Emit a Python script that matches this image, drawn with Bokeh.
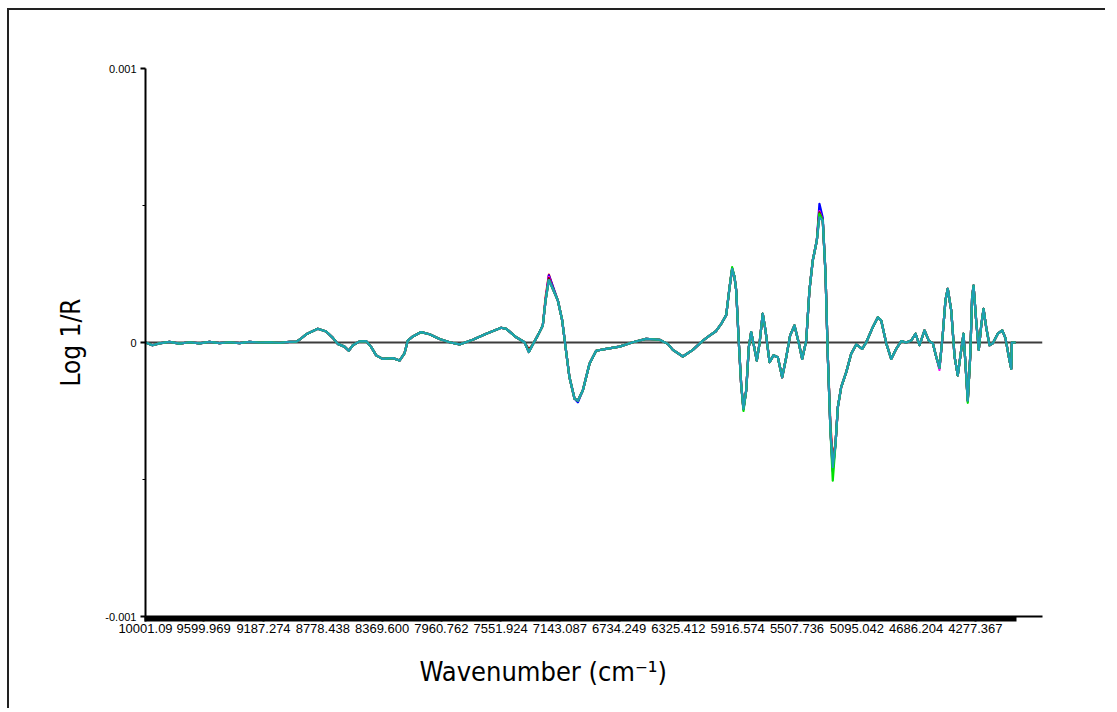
import numpy as np
from bokeh.plotting import figure
from bokeh.models import Range1d, FixedTicker, Span, Title, ColumnDataSource
from bokeh.embed import file_html
from bokeh.resources import INLINE

# ---------------- data ----------------
# wavenumber, cm-1 (decreasing, as drawn)
WAVENUMBER = [
    10001.09, 9953, 9905, 9836, 9767, 9698, 9629, 9560, 9491, 9422, 9353, 9284, 9215, 9146,
    9077, 9008, 8960, 8939, 8893, 8813, 8755, 8709, 8675, 8629, 8599, 8571, 8525, 8479,
    8444, 8410, 8364, 8295, 8249, 8215, 8192, 8157, 8100, 8042, 7973, 7904, 7835, 7744,
    7651, 7548, 7513, 7444, 7387, 7357, 7330, 7295, 7261, 7242, 7219, 7192, 7157, 7127,
    7104, 7077, 7042, 7019, 6985, 6939, 6893, 6824, 6732, 6640, 6548, 6456, 6399, 6364,
    6295, 6226, 6157, 6111, 6065, 6028, 5996, 5973, 5955, 5939, 5927, 5909, 5893, 5877,
    5858, 5840, 5824, 5808, 5785, 5766, 5744, 5725, 5697, 5670, 5640, 5610, 5582, 5555,
    5525, 5495, 5472, 5444, 5422, 5399, 5371, 5353, 5330, 5311, 5295, 5277, 5261, 5242,
    5226, 5203, 5168, 5134, 5099, 5058, 5030, 4985, 4950, 4927, 4892, 4858, 4823, 4789,
    4755, 4720, 4690, 4663, 4628, 4599, 4571, 4548, 4525, 4502, 4484, 4468, 4444, 4421,
    4399, 4375, 4359, 4346, 4330, 4313, 4300, 4290, 4272, 4254, 4237, 4221, 4203, 4180,
    4157, 4123, 4092, 4070, 4042, 4030, 4026, 3999.64,
]

# common spectrum shape, Log 1/R in units of 1e-6
BASE_MICRO = [
    0, -10, -3, 2, -4, 1, -3, 2, -2, 1, -2, 2, 0, 1,
    -1, 2, 3, 10, 30, 50, 40, 17, -5, -15, -30, -10, 4, 5,
    -17, -47, -60, -57, -66, -40, 7, 22, 38, 30, 13, 1, -7, 10,
    32, 54, 50, 19, 1, -35, -7, 26, 62, 153, 228, 196, 153, 80,
    -17, -127, -205, -212, -175, -78, -30, -23, -15, 1, 13, 10, -5, -27,
    -51, -27, 7, 25, 42, 70, 100, 200, 269, 240, 190, 0, -151, -242,
    -175, -17, 38, -3, -66, -3, 105, 44, -72, -47, -54, -127, -54, 26,
    62, -3, -60, 7, 190, 299, 372, 457, 445, 251, -54, -321, -455, -370,
    -236, -163, -108, -41, -7, -23, 1, 56, 92, 80, -3, -60, -23, 5,
    0, 7, 32, -10, 44, 7, -3, -51, -93, 32, 153, 196, 117, -51,
    -120, -27, 32, -76, -212, -51, 165, 208, 80, -27, 62, 123, 56, -10,
    -3, 32, 44, 16, -66, -96, 0, 0,
]

# the individual spectra differ from the common shape only at a few peaks
SERIES_NAMES = ["red", "blue", "magenta", "darkred", "gray", "green", "teal"]
SERIES_COLORS = ["#ff0000", "#0000ff", "#ff00ff", "#800000", "#8c8c8c", "#00e000", "#1e9fb4"]
SERIES_PEAKS_MICRO = [
    {7242: 165, 7219: 248, 7192: 205, 5353: 488, 5261: -418, 5277: -300},
    {7219: 245, 7192: 205, 7019: -218, 5353: 506, 5330: 455, 5261: -470},
    {7219: 240, 5877: -245, 5353: 480, 5261: -460, 4525: -100},
    {7219: 235, 7357: -25, 5353: 475, 5261: -440},
    {5353: 465, 5261: -465},
    {7219: 228, 5955: 275, 5877: -250, 5353: 470, 5261: -504, 4330: -220},
    {},
]

Y_TICKS = [-0.001, 0.0, 0.001]
Y_TICK_LABELS = ["-0.001", "0", "0.001"]
Y_MINOR_TICKS = [-0.0005, 0.0005]
X_TICKS = [10001.09, 9599.969, 9187.274, 8778.438, 8369.600, 7960.762, 7551.924,
           7143.087, 6734.249, 6325.412, 5916.574, 5507.736, 5095.042, 4686.204, 4277.367]
X_TICK_LABELS = ["10001.09", "9599.969", "9187.274", "8778.438", "8369.600", "7960.762",
                 "7551.924", "7143.087", "6734.249", "6325.412", "5916.574", "5507.736",
                 "5095.042", "4686.204", "4277.367"]
N_SAMPLES = 1557  # instrument sample points (one tick mark each on the x axis)

NARROW = "DejaVu Sans Condensed"

p = figure(
    width=1098, height=700,
    x_range=Range1d(10001.09, 3814.5),
    y_range=Range1d(-0.001, 0.001),
    output_backend="svg", toolbar_location=None,
    min_border_left=136, min_border_right=65, min_border_top=58, min_border_bottom=94,
)
p.styles = {"margin-left": "7px", "margin-top": "8px",
            "border-top": "2px solid #222222", "border-left": "2px solid #222222"}
p.outline_line_color = None
p.grid.visible = False
p.background_fill_color = "white"
p.border_fill_color = "white"

# zero line
p.add_layout(Span(location=0, dimension="width", line_color="#3c3c3c", line_width=2, level="underlay"))

wn = np.array(WAVENUMBER, dtype=float)
for name, color, peaks in zip(SERIES_NAMES, SERIES_COLORS, SERIES_PEAKS_MICRO):
    vals = list(BASE_MICRO)
    for k, v in peaks.items():
        vals[WAVENUMBER.index(k)] = v
    src = ColumnDataSource(dict(x=wn, y=np.array(vals, dtype=float) * 1e-6))
    p.line("x", "y", source=src, line_color=color, line_width=2.2, line_join="round")

# x axis
xa = p.xaxis[0]
xa.ticker = FixedTicker(ticks=X_TICKS,
                        minor_ticks=np.linspace(WAVENUMBER[0], WAVENUMBER[-1], N_SAMPLES).tolist())
xa.major_label_overrides = {t: l for t, l in zip(X_TICKS, X_TICK_LABELS)}
xa.axis_line_color = "black"
xa.axis_line_width = 2
xa.major_tick_in = 0
xa.major_tick_out = 5
xa.minor_tick_in = 0
xa.minor_tick_out = 5
xa.major_tick_line_color = "black"
xa.minor_tick_line_color = "black"
xa.major_tick_line_width = 2
xa.minor_tick_line_width = 2
xa.major_label_standoff = 2
xa.major_label_text_font = "Liberation Sans"
xa.major_label_text_font_size = "13px"
xa.major_label_text_color = "black"

# y axis
ya = p.yaxis[0]
ya.ticker = FixedTicker(ticks=Y_TICKS, minor_ticks=Y_MINOR_TICKS)
ya.major_label_overrides = {t: l for t, l in zip(Y_TICKS, Y_TICK_LABELS)}
ya.axis_line_color = "black"
ya.axis_line_width = 2
ya.major_tick_in = 0
ya.major_tick_out = 5
ya.minor_tick_in = 0
ya.minor_tick_out = 3
ya.major_tick_line_width = 2
ya.minor_tick_line_width = 1
ya.major_tick_line_color = "black"
ya.minor_tick_line_color = "black"
ya.major_label_standoff = 4
ya.major_label_text_font = "Liberation Sans"
ya.major_label_text_font_size = "11px"
ya.major_label_text_color = "black"
ya.axis_label = "Log 1/R"
ya.axis_label_text_font = NARROW
ya.axis_label_text_font_size = "26px"
ya.axis_label_text_font_style = "normal"
ya.axis_label_text_color = "black"
ya.axis_label_standoff = 16

# x axis title (placed left of centre, as in the reference)
p.add_layout(Title(text="Wavenumber (cm⁻¹)", align="left", offset=274,
                   text_font=NARROW, text_font_size="27px",
                   text_font_style="normal", text_color="black", standoff=36), "below")

open("out.html", "w").write(file_html(p, INLINE))
